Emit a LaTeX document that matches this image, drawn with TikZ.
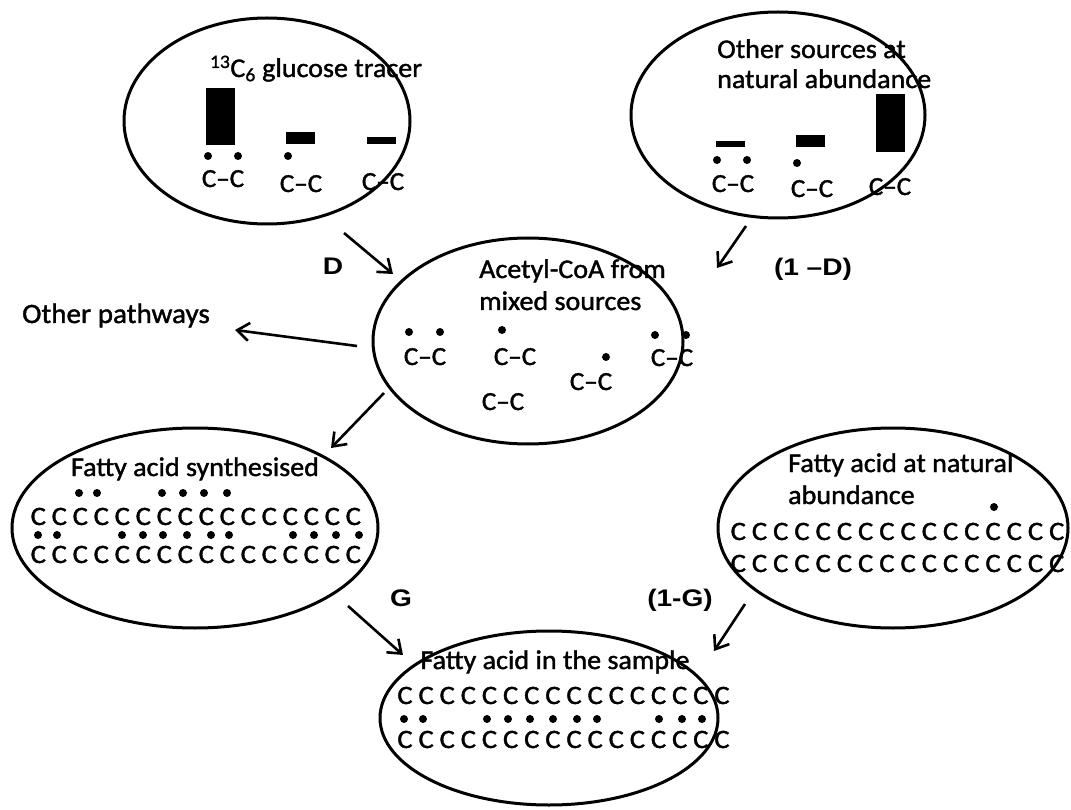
\documentclass[tikz,border=0pt]{standalone}
\usepackage{fontspec}
\setmainfont{Carlito}[FakeStretch=1.04, FakeBold=1.4]
\newfontfamily\carbonfont{Carlito}[FakeStretch=1.08, FakeBold=1.4]
\newfontfamily\labelfont{Liberation Sans}[FakeStretch=1.17]
\usetikzlibrary{shapes.geometric,arrows.meta}

\tikzset{
  pool/.style={draw, line width=3pt, ellipse, inner sep=0pt},
  txt/.style={inner sep=0pt, font=\fontsize{27}{30}\selectfont},
  ctxt/.style={txt, anchor=base},
  pair/.style={inner sep=0pt, anchor=base, font=\fontsize{26}{30}\selectfont},
  carbon/.style={inner sep=0pt, anchor=base, font=\carbonfont\fontsize{26.5}{30}\selectfont},
  lbl/.style={inner sep=0pt, anchor=base, font=\labelfont\bfseries\fontsize{24}{30}\selectfont},
  flow/.style={line width=2.6pt, -{Straight Barb[length=12pt,width=18pt,line width=2.6pt]}},
  bar/.style={fill=black, draw=none},
  atom/.style={fill=black, draw=none}
}
\newcommand{\lab}[2]{\fill[atom] (#1,#2) circle (4);}

\begin{document}
\begin{tikzpicture}[x=1pt, y=-1pt]
\useasboundingbox (0,0) rectangle (1071,810);

% ---------- pools ----------
\node[pool, minimum width=286pt, minimum height=206pt] (glc) at (267,121) {};
\node[pool, minimum width=294pt, minimum height=206pt] (oth) at (778,115) {};
\node[pool, minimum width=310pt, minimum height=206pt] (acc) at (528,341) {};
\node[pool, minimum width=366pt, minimum height=200pt] (fas) at (195,528) {};
\node[pool, minimum width=350pt, minimum height=200pt] (fan) at (893,528) {};
\node[pool, minimum width=338pt, minimum height=174pt] (fsm) at (549,718) {};

% ---------- glucose tracer ----------
\node[ctxt] (glcT) at (316,77) {\textsuperscript{13}C\textsubscript{6} glucose tracer};
\fill[bar] (206,88) rectangle (235,145);
\fill[bar] (286,132) rectangle (315,144);
\fill[bar] (367,137) rectangle (396,144);
\lab{208}{156}\lab{238}{156}\lab{288}{156}
\node[pair] (glc1) at (223,187) {C–C};
\node[pair] (glc2) at (301,192) {C–C};
\node[pair] (glc3) at (383,190) {C–C};

% ---------- other sources ----------
\node[txt, anchor=base west] (othT1) at (717,58) {Other sources at};
\node[txt, anchor=base west] (othT2) at (717,88) {natural abundance};
\fill[bar] (716,141) rectangle (745,147);
\fill[bar] (796,135) rectangle (825,147);
\fill[bar] (876,94) rectangle (905,152);
\lab{717}{160}\lab{747}{160}\lab{797}{163}
\node[pair] (oth1) at (733,192) {C–C};
\node[pair] (oth2) at (812,197) {C–C};
\node[pair] (oth3) at (890,195) {C–C};

% ---------- acetyl-CoA ----------
\node[txt, anchor=base west] (accT1) at (479,278) {Acetyl-CoA from};
\node[txt, anchor=base west] (accT2) at (479,310) {mixed sources};
\lab{409}{332}\lab{440}{332}\lab{502}{330}\lab{606}{357}\lab{655}{335}\lab{686}{335}
\node[pair] (acc1) at (425,365) {C–C};
\node[pair] (acc2) at (515,365) {C–C};
\node[pair] (acc3) at (503,410) {C–C};
\node[pair] (acc4) at (591,390) {C–C};
\node[pair] (acc5) at (672,366) {C–C};

\node[txt, anchor=base west, font=\fontsize{28}{30}\selectfont] (othpw) at (22,323) {Other pathways};

% ---------- fatty acid synthesised ----------
\node[ctxt] (fasT) at (195,476) {Fatty acid synthesised};
\foreach \i in {0,...,15} {
  \node[carbon] (fasA\i) at ({38.3+21*\i},525) {C};
  \node[carbon] (fasB\i) at ({38.3+21*\i},563) {C};
}
\foreach \x in {79,97,162,183,204,227} \fill[atom] (\x,493) circle (4);
\foreach \x in {38,57,122,143,163,187,211,229,293,314,336,359} \fill[atom] (\x,535) circle (4);

% ---------- fatty acid at natural abundance ----------
\node[txt, anchor=base west] (fanT1) at (788,472) {Fatty acid at natural};
\node[txt, anchor=base west] (fanT2) at (788,504) {abundance};
\foreach \i in {0,...,15} {
  \node[carbon] (fanA\i) at ({738.3+21.23*\i},540) {C};
  \node[carbon] (fanB\i) at ({738.3+21.23*\i},572) {C};
}
\fill[atom] (994,507) circle (4);

% ---------- fatty acid in the sample ----------
\node[ctxt] (fsmT) at (555,669) {Fatty acid in the sample};
\foreach \i in {0,...,15} {
  \node[carbon] (fsmA\i) at ({405+21.13*\i},704) {C};
  \node[carbon] (fsmB\i) at ({405+21.13*\i},748) {C};
}
\foreach \x in {404,423,487,508,530,553,577,597,659,682,702} \fill[atom] (\x,719) circle (4);

% ---------- fluxes ----------
\coordinate (dS) at (344,233);   \coordinate (dE) at (393,274);
\coordinate (odS) at (746,226);  \coordinate (odE) at (717,268);
\coordinate (pwS) at (357,346);  \coordinate (pwE) at (235,330);
\coordinate (fS) at (384,393);   \coordinate (fE) at (331,448);
\coordinate (gS) at (348,606);   \coordinate (gE) at (403,655);
\coordinate (ogS) at (745,604);  \coordinate (ogE) at (714,651);
\draw[flow] (dS) -- (dE);
\draw[flow] (odS) -- (odE);
\draw[flow] (pwS) -- (pwE);
\draw[flow] (fS) -- (fE);
\draw[flow] (gS) -- (gE);
\draw[flow] (ogS) -- (ogE);

\node[lbl] (lD) at (333,275) {D};
\node[lbl] (l1D) at (813,276) {(1 –D)};
\node[lbl] (lG) at (401,606) {G};
\node[lbl] (l1G) at (680,606) {(1-G)};
\end{tikzpicture}
\end{document}
